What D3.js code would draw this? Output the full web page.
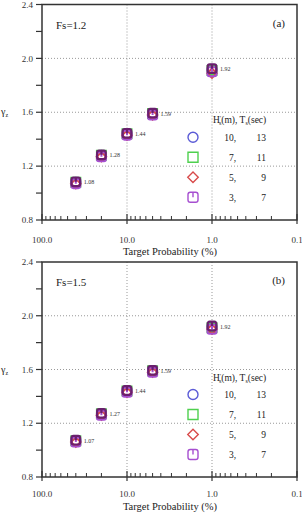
<!DOCTYPE html>
<html>
<head>
<meta charset="utf-8">
<script src="https://cdn.jsdelivr.net/npm/d3@7"></script>
<style>
  body { margin: 0; background: #fff; }
  svg { display: block; font-family: "Liberation Serif", "DejaVu Serif", serif; }
</style>
</head>
<body>
<svg id="chart" width="302" height="513"></svg>
<script>
// target probability (%) for each design point
const probs = [40, 20, 10, 5, 1];

// panel (a), Fs = 1.2
const fsA_h10 = [1.08, 1.28, 1.44, 1.59, 1.92];
const fsA_h7 = [1.08, 1.28, 1.44, 1.59, 1.91];
const fsA_h5 = [1.07, 1.27, 1.43, 1.58, 1.89];
const fsA_h3 = [1.07, 1.27, 1.43, 1.58, 1.90];
const labelsA = ["1.08", "1.28", "1.44", "1.59", "1.92"];

// panel (b), Fs = 1.5
const fsB_h10 = [1.07, 1.27, 1.44, 1.59, 1.92];
const fsB_h7 = [1.07, 1.27, 1.44, 1.59, 1.91];
const fsB_h5 = [1.06, 1.26, 1.43, 1.58, 1.90];
const fsB_h3 = [1.06, 1.26, 1.43, 1.58, 1.90];
const labelsB = ["1.07", "1.27", "1.44", "1.59", "1.92"];

const legendH = ["10,", "7,", "5,", "3,"];
const legendT = ["13", "11", "9", "7"];
const xTicks = [100, 10, 1, 0.1];
const yTicks = [0.8, 1.2, 1.6, 2.0, 2.4];

const colors = ["#5b5bd6", "#4fd04f", "#d84a4a", "#a64fd0"];

const svg = d3.select("#chart");

function symbolPath(k, s) {
  // s = half size
  if (k === 0) return d3.symbol(d3.symbolCircle, Math.PI * s * s)();
  if (k === 1) return `M${-s},${-s}H${s}V${s}H${-s}Z`;
  if (k === 2) return `M0,${-s * 1.05}L${s * 1.05},0L0,${s * 1.05}L${-s * 1.05},0Z`;
  // rounded square with a stem from the top
  const r = s * 0.45;
  return `M${-s + r},${-s}H${s - r}Q${s},${-s} ${s},${-s + r}V${s - r}Q${s},${s} ${s - r},${s}` +
    `H${-s + r}Q${-s},${s} ${-s},${s - r}V${-s + r}Q${-s},${-s} ${-s + r},${-s}Z` +
    `M0,${-s}V0`;
}

function drawPanel(o) {
  const x = d3.scaleLog().domain([100, 0.1]).range([42, 297]);
  const y = d3.scaleLinear().domain([0.8, 2.4]).range([o.bottom, o.top]);
  const g = svg.append("g");

  // grid
  g.selectAll(".gx").data([10, 1]).join("line")
    .attr("x1", d => x(d)).attr("x2", d => x(d))
    .attr("y1", o.top).attr("y2", o.bottom)
    .attr("stroke", "#999").attr("stroke-dasharray", "1,2");
  g.selectAll(".gy").data([1.2, 1.6, 2.0]).join("line")
    .attr("x1", x(100)).attr("x2", x(0.1))
    .attr("y1", d => y(d)).attr("y2", d => y(d))
    .attr("stroke", "#999").attr("stroke-dasharray", "1,2");

  // x minor ticks (inside)
  const minors = [];
  [100, 10, 1].forEach(dec => {
    for (let m = 2; m <= 9; m++) minors.push(dec / 10 * m);
  });
  g.selectAll(".mx").data(minors).join("line")
    .attr("x1", d => x(d)).attr("x2", d => x(d))
    .attr("y1", o.bottom).attr("y2", o.bottom - 4)
    .attr("stroke", "#333").attr("stroke-width", 1);
  g.selectAll(".Mx").data(xTicks).join("line")
    .attr("x1", d => x(d)).attr("x2", d => x(d))
    .attr("y1", o.bottom + 4).attr("y2", o.bottom - 6)
    .attr("stroke", "#333").attr("stroke-width", 1.2);

  // y ticks (outside)
  g.selectAll(".ty").data(d3.range(0.8, 2.41, 0.2)).join("line")
    .attr("x1", x(100)).attr("x2", x(100) - 6)
    .attr("y1", d => y(d)).attr("y2", d => y(d))
    .attr("stroke", "#333").attr("stroke-width", 1.2);

  // frame
  g.append("rect")
    .attr("x", x(100)).attr("y", o.top)
    .attr("width", x(0.1) - x(100)).attr("height", o.bottom - o.top)
    .attr("fill", "none").attr("stroke", "#333").attr("stroke-width", 1.5);

  // tick labels
  g.selectAll(".ly").data(yTicks).join("text")
    .attr("x", 33).attr("y", d => y(d)).attr("dy", "0.35em")
    .attr("text-anchor", "end").attr("font-size", 9).attr("fill", "#333")
    .text(d => d.toFixed(1));
  g.selectAll(".lx").data(xTicks).join("text")
    .attr("x", d => x(d)).attr("y", o.bottom + o.tickDy)
    .attr("text-anchor", "middle").attr("font-size", 9).attr("fill", "#333")
    .text(d => d.toFixed(1));

  g.append("text")
    .attr("x", 170).attr("y", o.titleY)
    .attr("text-anchor", "middle").attr("font-size", 10.5).attr("fill", "#222")
    .text("Target Probability (%)");

  // y label
  const yl = g.append("text")
    .attr("x", 1).attr("y", y(1.6) + 3)
    .attr("font-size", 10).attr("fill", "#222");
  yl.append("tspan").text("γ");
  yl.append("tspan").attr("font-size", 6).attr("dy", 2).text("z");

  g.append("text").attr("x", 56).attr("y", o.top + 24)
    .attr("font-size", 11).attr("fill", "#222").text(o.fs);
  g.append("text").attr("x", 285).attr("y", o.top + 22)
    .attr("text-anchor", "end").attr("font-size", 11).attr("fill", "#222").text(o.tag);

  // data markers
  o.series.forEach((vals, k) => {
    g.selectAll(".p" + k).data(vals).join("path")
      .attr("transform", (d, i) => `translate(${x(probs[i])},${y(d)})`)
      .attr("d", symbolPath(k, 4.5))
      .attr("fill", "none")
      .attr("stroke", colors[k])
      .attr("stroke-width", 2);
  });
  // overlay dark tint to mimic overlapped markers
  g.selectAll(".pd").data(o.series[0]).join("path")
    .attr("transform", (d, i) => `translate(${x(probs[i])},${y(d) - 0.5})`)
    .attr("d", symbolPath(3, 4.3))
    .attr("fill", "none")
    .attr("stroke", "#6a1f6e")
    .attr("stroke-width", 2.2);

  g.selectAll(".vl").data(o.labels).join("text")
    .attr("x", (d, i) => x(probs[i]) + 8)
    .attr("y", (d, i) => y(o.series[0][i]) + 2)
    .attr("font-size", 6).attr("fill", "#333")
    .text(d => d);

  // legend
  const lt = g.append("text").attr("x", 213).attr("y", y(1.6) + 11)
    .attr("font-size", 9.5).attr("fill", "#222");
  lt.append("tspan").text("H");
  lt.append("tspan").attr("font-size", 6).attr("dy", -3).text("'");
  lt.append("tspan").attr("font-size", 6).attr("dx", -2).attr("dy", 5).text("s");
  lt.append("tspan").attr("dy", -2).text("(m), T");
  lt.append("tspan").attr("font-size", 6).attr("dy", 2).text("s");
  lt.append("tspan").attr("dy", -2).text("(sec)");

  legendH.forEach((h, k) => {
    const cy = y(1.6) + 25 + k * 20;
    g.append("path").attr("transform", `translate(193,${cy})`)
      .attr("d", symbolPath(k, 5))
      .attr("fill", "none").attr("stroke", colors[k]).attr("stroke-width", 1.4);
    g.append("text").attr("x", 236).attr("y", cy + 3.5)
      .attr("text-anchor", "end").attr("font-size", 9.5).attr("fill", "#222").text(h);
    g.append("text").attr("x", 266).attr("y", cy + 3.5)
      .attr("text-anchor", "end").attr("font-size", 9.5).attr("fill", "#222").text(legendT[k]);
  });
}

drawPanel({ top: 4.5, bottom: 220, tickDy: 23, titleY: 255, fs: "Fs=1.2", tag: "(a)",
  series: [fsA_h10, fsA_h7, fsA_h5, fsA_h3], labels: labelsA });
drawPanel({ top: 262, bottom: 477, tickDy: 20, titleY: 510, fs: "Fs=1.5", tag: "(b)",
  series: [fsB_h10, fsB_h7, fsB_h5, fsB_h3], labels: labelsB });
</script>
</body>
</html>
